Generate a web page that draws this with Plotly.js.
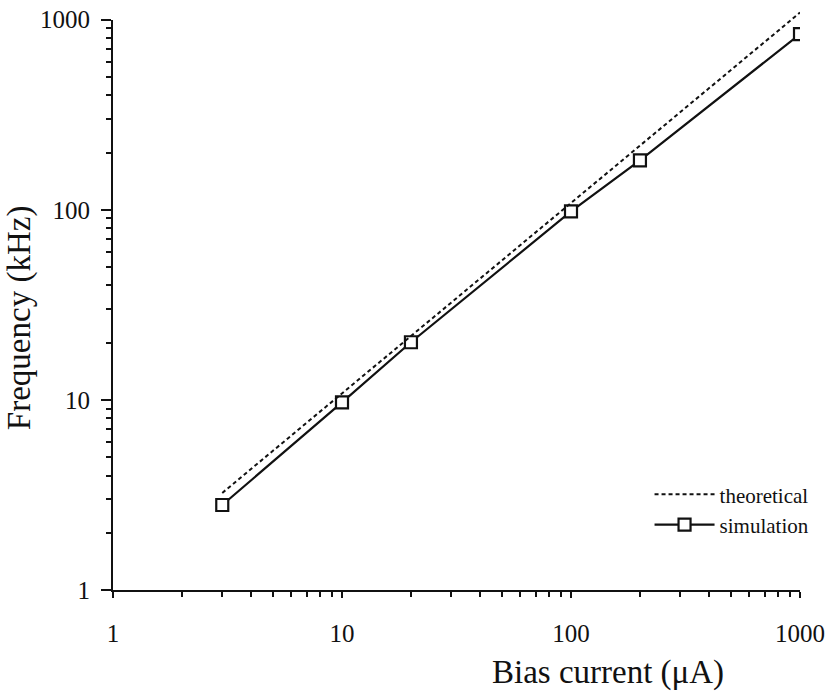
<!DOCTYPE html>
<html>
<head>
<meta charset="utf-8">
<script src="https://cdn.plot.ly/plotly-3.0.1.min.js"></script>
<style>
  html, body { margin: 0; padding: 0; background: #fff; }
  #chart { width: 830px; height: 692px; }
</style>
</head>
<body>
<div id="chart"></div>
<script>
// Bias current (µA) and oscillation frequency (kHz)
const theoryCurrent = [3, 1000];
const theoryFreq = [3.24, 1090];

const simCurrent = [3, 10, 20, 100, 200, 1000];
const simFreq = [2.8, 9.7, 20.1, 98, 182, 840];

const tickValues = [1, 10, 100, 1000];
const tickText = ['1', '10', '100', '1000'];

const serif = 'Liberation Serif, Times New Roman, serif';

// The main y axis spans decades 0..3 over a domain slightly shorter than the
// plot area; a hidden companion axis with the same scale covers the full
// height so the theoretical line may run a little past the 1000 tick.
const yTop = 0.985;

const traces = [
  {
    x: theoryCurrent, y: theoryFreq, yaxis: 'y2',
    name: 'theoretical', mode: 'lines', type: 'scatter',
    line: { color: '#111', width: 2, dash: '4px,3px' }
  },
  {
    x: simCurrent, y: simFreq,
    name: 'simulation', mode: 'lines+markers', type: 'scatter',
    line: { color: '#111', width: 2.2 },
    marker: { symbol: 'square', size: 12, color: '#fff', line: { color: '#111', width: 2.2 } }
  }
];

const axisCommon = {
  type: 'log', range: [0, 3],
  showgrid: false, zeroline: false,
  showline: true, linecolor: '#111', linewidth: 2,
  ticks: 'outside', tickcolor: '#111', tickwidth: 2,
  tickmode: 'array', tickvals: tickValues, ticktext: tickText,
  tickfont: { family: serif, size: 25, color: '#111' },
  minor: { ticks: 'outside', dtick: 'D1', ticklen: 5, tickwidth: 2, tickcolor: '#111', showgrid: false }
};

const layout = {
  width: 830, height: 692,
  margin: { l: 113, r: 30, t: 11, b: 102 },
  paper_bgcolor: '#fff', plot_bgcolor: 'rgba(0,0,0,0)',
  showlegend: true,
  legend: {
    x: 0.781, y: 0.2, xanchor: 'left', yanchor: 'top',
    bgcolor: 'rgba(0,0,0,0)',
    font: { family: serif, size: 21, color: '#111' },
    itemwidth: 60,
    tracegroupgap: 0
  },
  xaxis: Object.assign({}, axisCommon, { ticklen: 6, ticklabelstandoff: 14 }),
  yaxis: Object.assign({}, axisCommon, { domain: [0, yTop], ticklen: 10, ticklabelstandoff: 6 }),
  yaxis2: {
    type: 'log', range: [0, 3 / yTop], domain: [0, 1], anchor: 'x',
    visible: false, showgrid: false, zeroline: false
  },
  annotations: [
    {
      text: 'Bias current (\u03bcA)', xref: 'paper', yref: 'paper',
      x: 0.72, y: -0.142, xanchor: 'center', yanchor: 'middle', showarrow: false,
      font: { family: serif, size: 33, color: '#111' }
    },
    {
      text: 'Frequency (kHz)', xref: 'paper', yref: 'paper',
      x: -0.135, y: 0.47, xanchor: 'center', yanchor: 'middle', showarrow: false,
      textangle: -90,
      font: { family: serif, size: 33, color: '#111' }
    }
  ]
};

Plotly.newPlot('chart', traces, layout, { displayModeBar: false, staticPlot: true });
</script>
</body>
</html>
